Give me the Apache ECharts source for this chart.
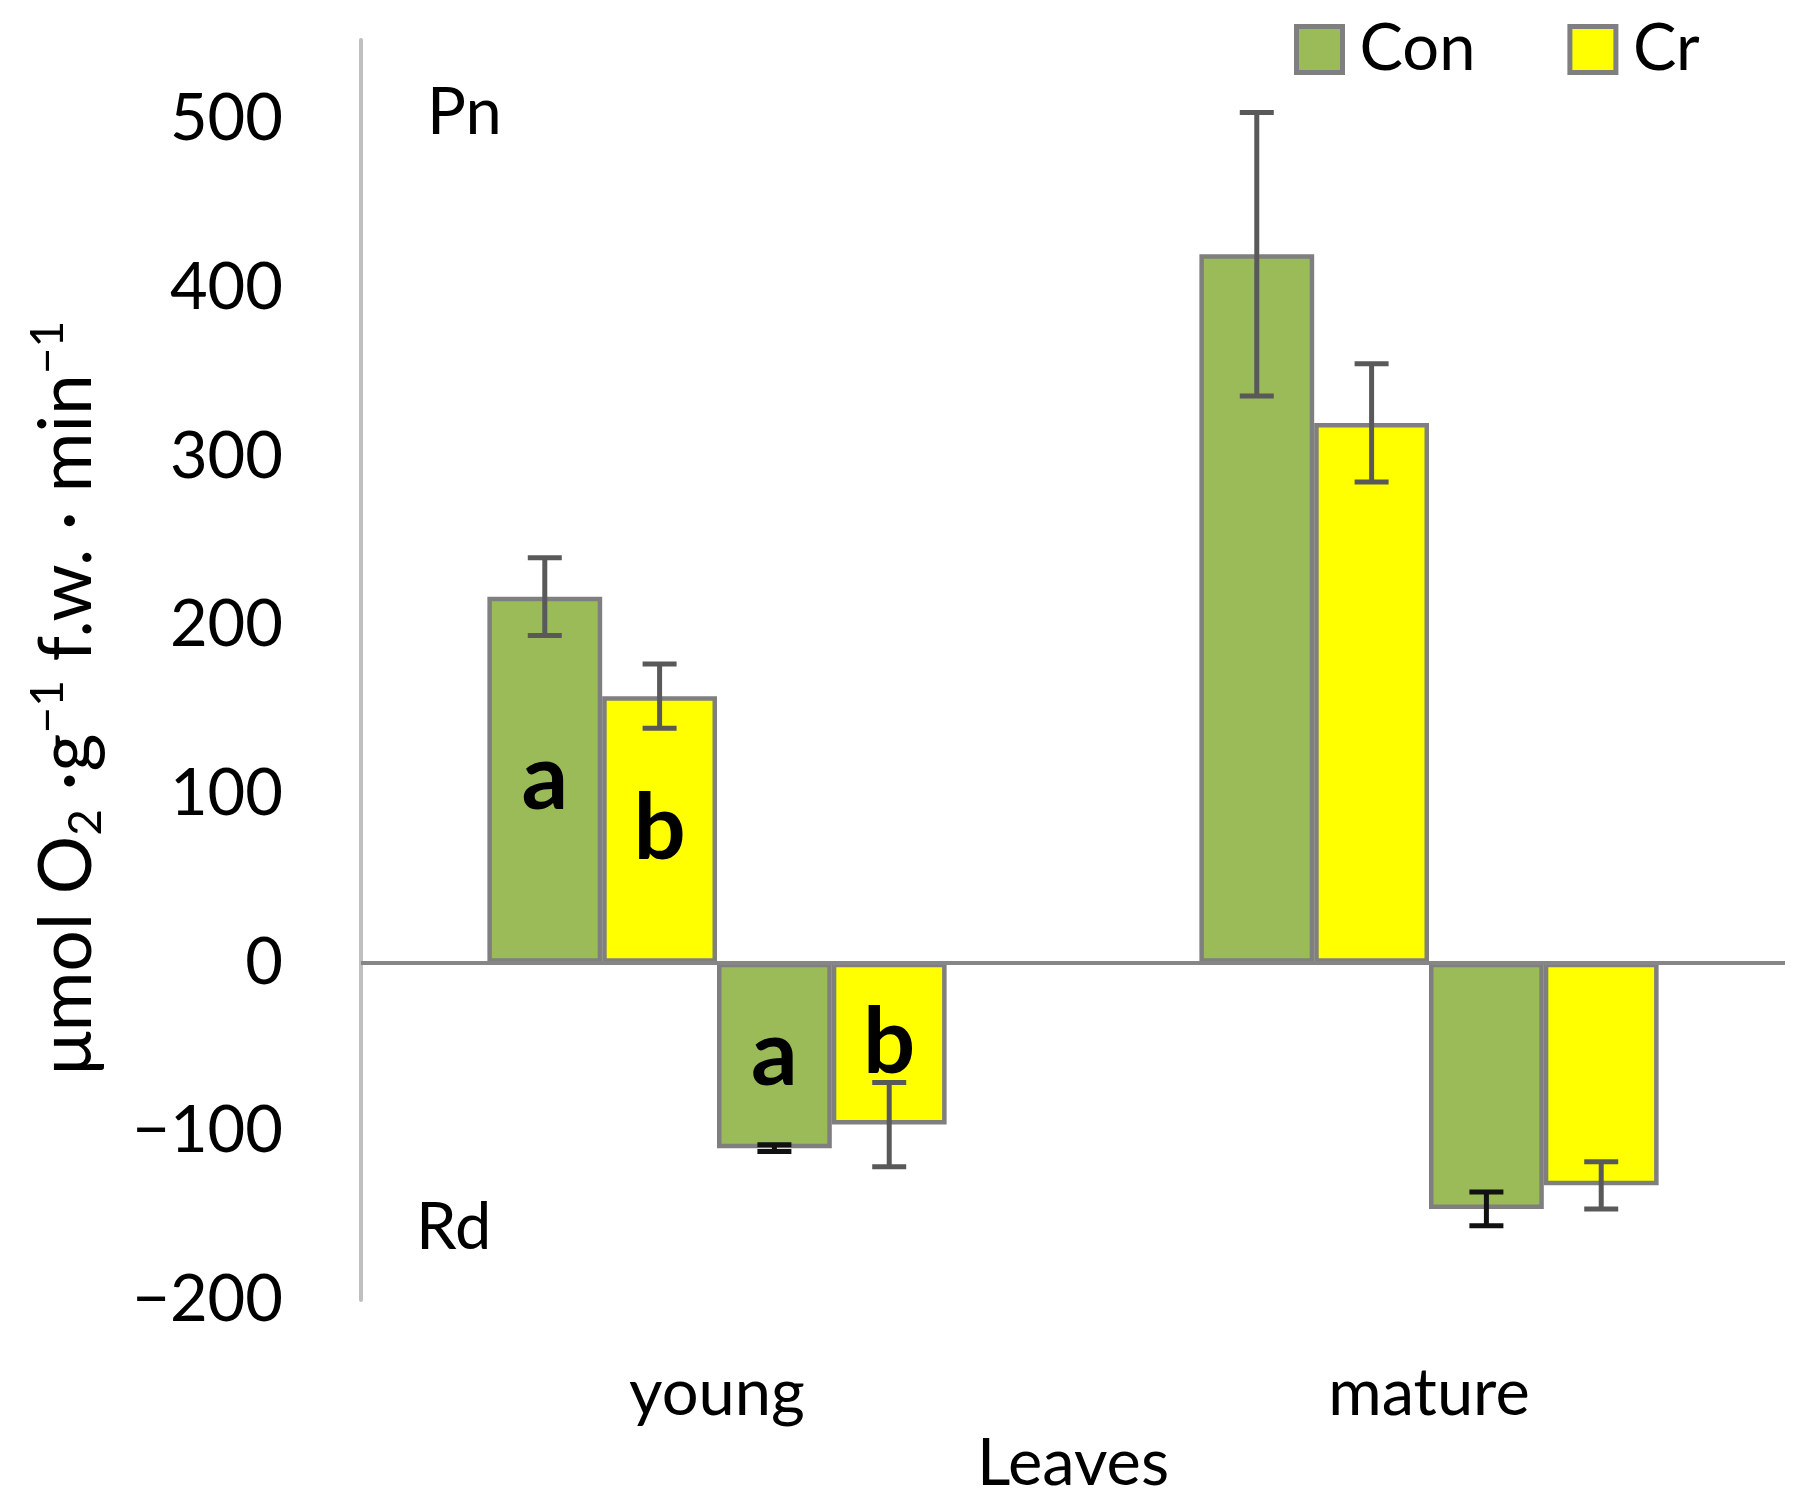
<!DOCTYPE html>
<html lang="en">
<head>
<meta charset="UTF-8">
<title>Pn and Rd of leaves</title>
<style>
  html, body { margin: 0; padding: 0; background: #fff; }
  #chart { width: 1809px; height: 1509px; }
</style>
</head>
<body>
<div id="chart"></div>
<script src="https://cdn.jsdelivr.net/npm/echarts@6/dist/echarts.min.js"></script>
<script>
// values
var categories = ['young', 'mature'];
var pnCon = [217, 420];
var pnCr = [158, 320];
var rdCon = [-110, -146];
var rdCr = [-96, -132];
var pnConErr = [23, 84];
var pnCrErr = [19, 35];
var rdConErr = [2, 10];
var rdCrErr = [25, 14];
var pnConSig = ['a', ''];
var pnCrSig = ['b', ''];
var rdConSig = ['a', ''];
var rdCrSig = ['b', ''];
var yTicks = [-200, -100, 0, 100, 200, 300, 400, 500];
var yTop = 547;

var FONT = 'Lato';
var GAP = 0.355;
var GREEN = '#9bbb59', YELLOW = '#ffff00', EDGE = '#7f7f7f';

var chart = echarts.init(document.getElementById('chart'));

function barSeries(name, vals, sigs, fill) {
    return {
        name: name,
        type: 'bar',
        data: vals,
        barGap: '0%',
        barCategoryGap: (GAP * 100) + '%',
        itemStyle: { color: fill, borderColor: EDGE, borderWidth: 4.5 },
        label: {
            show: true,
            position: 'inside',
            fontFamily: FONT,
            fontWeight: 'bold',
            fontSize: 92,
            color: '#000',
            formatter: function (p) { return sigs[p.dataIndex]; }
        },
        emphasis: { disabled: true }
    };
}

function errSeries(slot, vals, errs, color) {
    return {
        type: 'custom',
        silent: true,
        z: 3,
        data: vals.map(function (v, i) { return [i, v, errs[i]]; }),
        renderItem: function (params, api) {
            var band = api.size([1, 0])[0];
            var barW = band * (1 - GAP) / 4;
            var off = (slot - 1.5) * barW;
            var hi = api.coord([api.value(0), api.value(1) + api.value(2)]);
            var lo = api.coord([api.value(0), api.value(1) - api.value(2)]);
            var x = hi[0] + off, cap = 17;
            var st = { stroke: color, lineWidth: 5 };
            return {
                type: 'group',
                children: [
                    { type: 'line', shape: { x1: x, y1: hi[1], x2: x, y2: lo[1] }, style: st },
                    { type: 'line', shape: { x1: x - cap, y1: hi[1], x2: x + cap, y2: hi[1] }, style: st },
                    { type: 'line', shape: { x1: x - cap, y1: lo[1], x2: x + cap, y2: lo[1] }, style: st }
                ]
            };
        }
    };
}

var zeroSeries = barSeries('Con', pnCon, pnConSig, GREEN);
zeroSeries.markLine = {
    silent: true,
    symbol: ['none', 'none'],
    label: { show: false },
    lineStyle: { color: '#868686', width: 4, type: 'solid' },
    data: [{ yAxis: 0 }]
};

var option = {
    animation: false,
    textStyle: { fontFamily: FONT },
    grid: { left: 361, right: 24, top: 40, bottom: 209 },
    legend: {
        data: ['Con', 'Cr'],
        left: 1289,
        top: 12,
        itemWidth: 46,
        itemHeight: 46,
        itemGap: 92,
        icon: 'rect',
        itemStyle: { borderWidth: 5 },
        textStyle: { fontFamily: FONT, fontSize: 65, color: '#000', padding: [0, 0, 0, 12] }
    },
    xAxis: {
        type: 'category',
        data: categories,
        axisLine: { show: false, onZero: false },
        axisTick: { show: false },
        axisLabel: { fontFamily: FONT, fontSize: 65, color: '#000', margin: 62 },
        name: 'Leaves',
        nameLocation: 'middle',
        nameGap: 112,
        nameTextStyle: { fontFamily: FONT, fontSize: 65, color: '#000' }
    },
    yAxis: {
        type: 'value',
        min: yTicks[0],
        max: yTop,
        interval: yTicks[1] - yTicks[0],
        axisLine: { show: true, lineStyle: { color: '#bfbfbf', width: 4 } },
        axisTick: { show: false },
        splitLine: { show: false },
        axisLabel: {
            fontFamily: FONT, fontSize: 65, color: '#000', margin: 78,
            formatter: function (v) {
                return yTicks.indexOf(v) < 0 ? '' : String(v).replace('-', '\u2212');
            }
        },
        name: '{t|\u03bcmol O}{sub|2}{t| \u00b7g}{sup|\u22121}{t| f.w. \u00b7 min}{sup|\u22121}',
        nameLocation: 'middle',
        nameGap: 252,
        nameTextStyle: {
            padding: [0, 56, 0, 0],
            rich: {
                t: { fontFamily: FONT, fontSize: 73, color: '#000', lineHeight: 84 },
                sub: { fontFamily: FONT, fontSize: 46, color: '#000', verticalAlign: 'bottom', lineHeight: 84 },
                sup: { fontFamily: FONT, fontSize: 46, color: '#000', verticalAlign: 'top', lineHeight: 52 }
            }
        }
    },
    graphic: [
        { type: 'text', left: 427, top: 81, style: { text: 'Pn', font: '65px ' + FONT, fill: '#000' } },
        { type: 'text', left: 416, top: 1196, style: { text: 'Rd', font: '65px ' + FONT, fill: '#000' } }
    ],
    series: [
        zeroSeries,
        barSeries('Cr', pnCr, pnCrSig, YELLOW),
        barSeries('Con', rdCon, rdConSig, GREEN),
        barSeries('Cr', rdCr, rdCrSig, YELLOW),
        errSeries(0, pnCon, pnConErr, '#595959'),
        errSeries(1, pnCr, pnCrErr, '#595959'),
        errSeries(2, rdCon, rdConErr, '#111'),
        errSeries(3, rdCr, rdCrErr, '#595959')
    ]
};

chart.setOption(option);
</script>
</body>
</html>
